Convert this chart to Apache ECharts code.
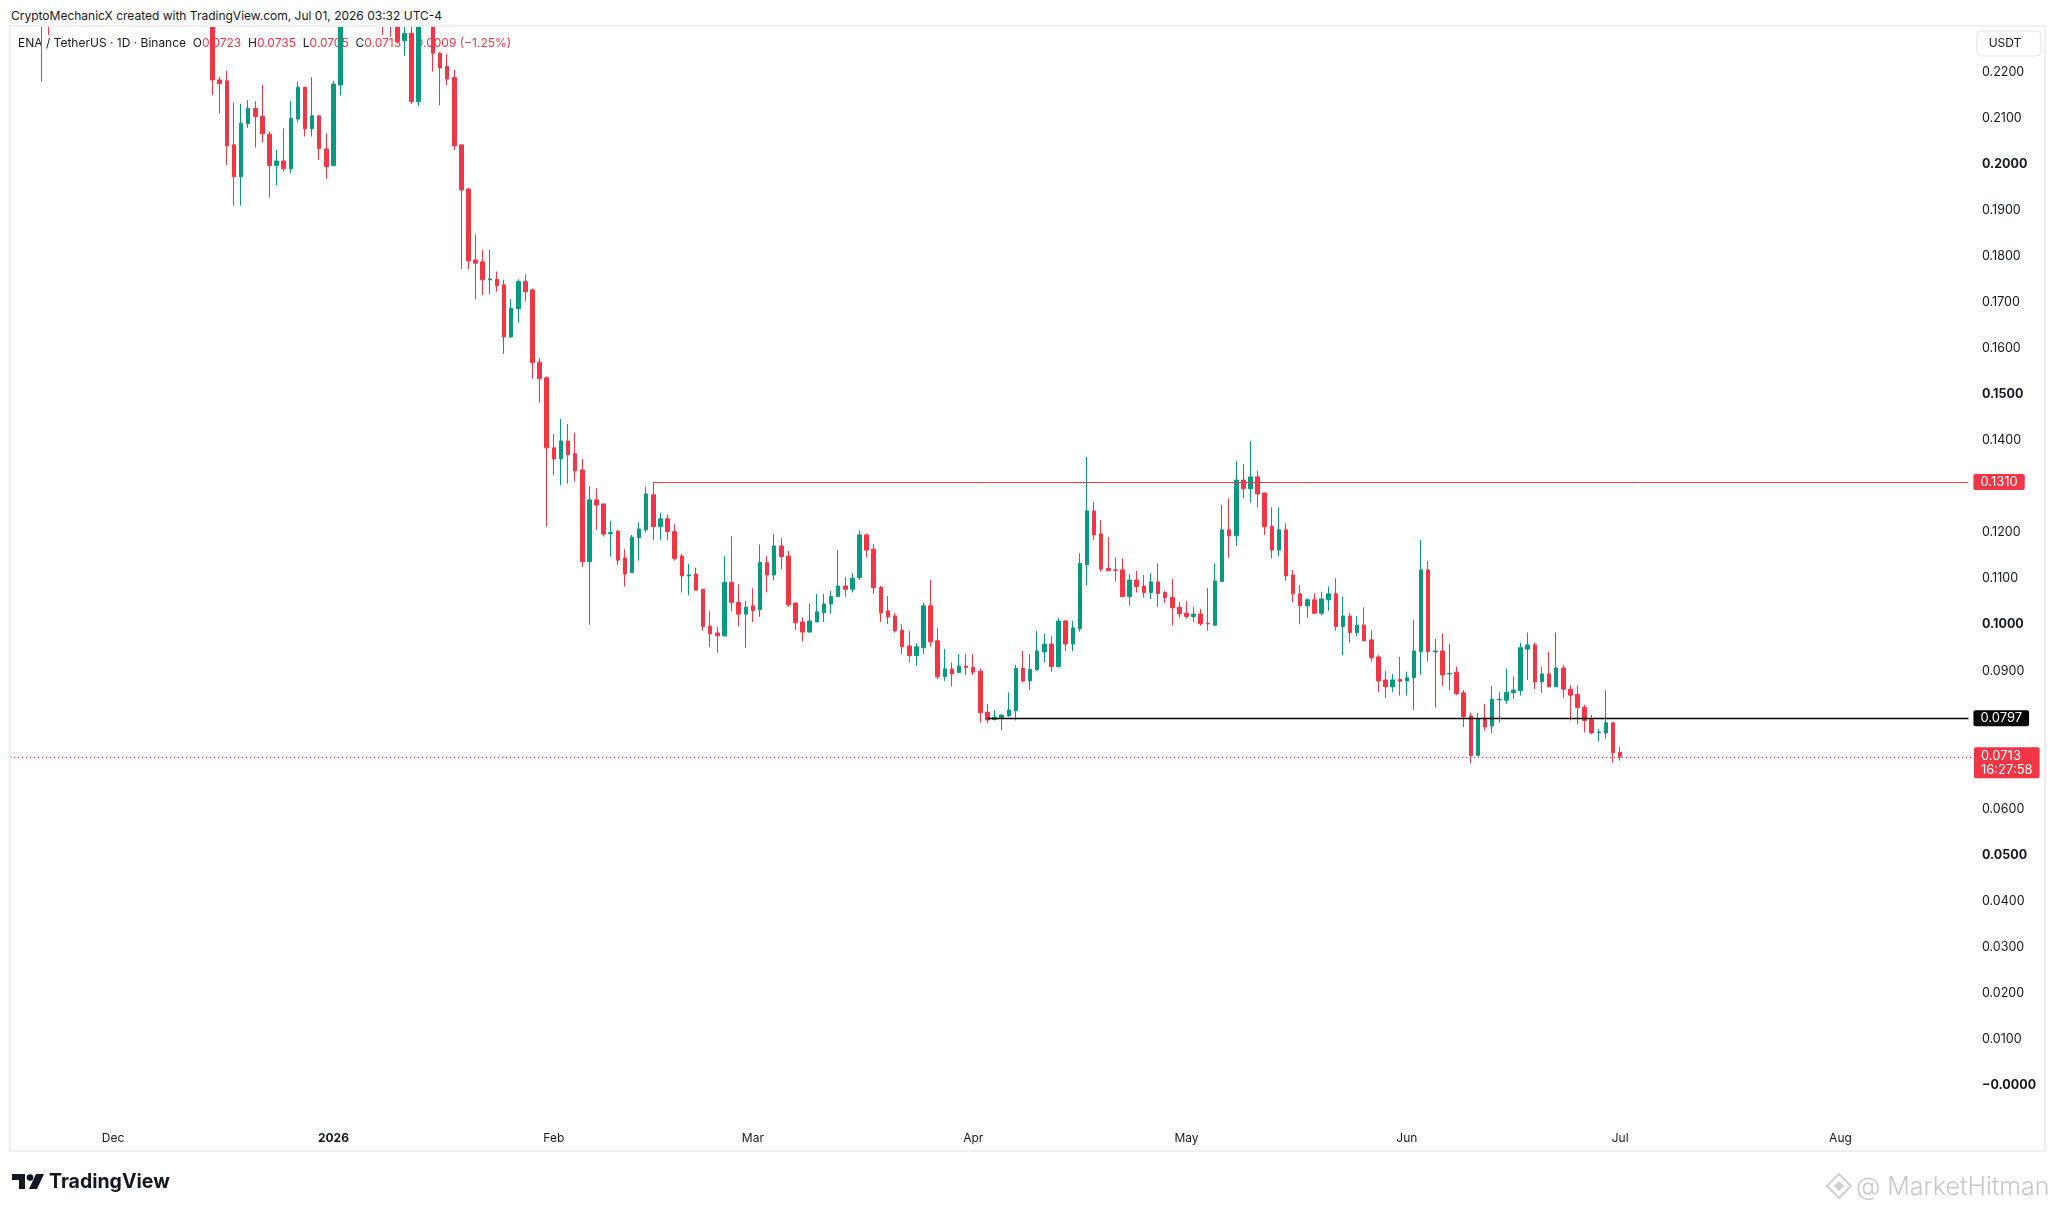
<!DOCTYPE html>
<html lang="en">
<head>
    <meta charset="utf-8">
    <title>ENA / TetherUS 1D</title>
    <style>
        html, body {
            margin: 0;
            padding: 0;
            background: #ffffff;
        }

        #wrap {
            position: relative;
            width: 2055px;
            height: 1212px;
        }

        #chart {
            width: 2055px;
            height: 1212px;
        }

        /* header strip sits over the canvas, so candles running off the pane top stay hidden */
        #header {
            position: absolute;
            left: 0;
            top: 0;
            width: 2055px;
            height: 25px;
            background: #ffffff;
            z-index: 10;
            font: 12px Inter, "Noto Sans", sans-serif;
            color: #131722;
            line-height: 32px;
            padding-left: 11px;
            box-sizing: border-box;
            white-space: nowrap;
        }

        #header span {
            display: block;
            height: 25px;
            line-height: 32px;
            overflow: visible;
        }
    </style>
</head>
<body>
<div id="wrap">
    <div id="chart"></div>
    <div id="header"><span>CryptoMechanicX created with TradingView.com, Jul 01, 2026 03:32 UTC-4</span></div>
</div>

<script src="https://cdn.jsdelivr.net/npm/echarts@6/dist/echarts.min.js"></script>
<script>
    // daily candles, 2025-11-17 .. 2026-07-01
    const firstDay = Date.UTC(2025, 10, 17);
    const dayCount = 276; // axis runs on to 2026-08-19

    const opens = [
        .262, .255, .266, .258, .246, .240, .235, .247, .256, .251,
        .263, .270, .262, .266, .259, .244, .258, .271, .263, .255,
        .258, .252, .257, .262, .255, .248, .245, .249, .244, .2183,
        .2181, .2042, .1973, .2088, .2121, .2104, .2065, .1997, .2007, .1990,
        .2098, .2167, .2077, .2105, .2033, .1997, .2172, .240, .248, .256,
        .249, .254, .245, .238, .236, .2268, .2284, .2136, .240, .243,
        .2241, .2212, .2188, .2042, .1946, .1792, .1788, .1749, .1750, .1738,
        .1625, .1686, .1745, .1727, .1570, .1536, .1384, .1360, .1399, .1371,
        .1336, .1137, .1271, .1262, .1198, .1203, .1145, .1113, .1189, .1206,
        .1282, .1213, .1230, .1202, .1149, .1106, .1110, .1077, .0997, .0982,
        .0976, .1092, .1048, .1023, .1041, .1033, .1135, .1108, .1171, .1149,
        .1047, .1006, .0984, .1006, .1026, .1045, .1061, .1084, .1077, .1102,
        .1195, .1164, .1081, .1030, .1019, .0988, .0954, .0933, .0950, .1041,
        .0965, .0887, .0904, .0896, .0910, .0907, .0899, .0810, .0794, .0798,
        .0802, .0813, .0905, .0878, .0902, .0941, .0958, .0909, .1008, .0958,
        .0991, .1130, .1247, .1197, .1122, .1119, .1119, .1061, .1097, .1084,
        .1070, .1093, .1070, .1059, .1038, .1025, .1018, .1023, .1003, .0999,
        .1094, .1206, .1193, .1314, .1295, .1321, .1286, .1214, .1162, .1206,
        .1108, .1067, .1041, .1054, .1025, .1054, .1067, .0996, .1019, .0983,
        .0999, .0967, .0930, .0880, .0865, .0881, .0878, .0885, .0942, .1119,
        .0941, .0943, .0893, .0897, .0852, .0802, .0716, .0797, .0780, .0837,
        .0836, .0852, .0857, .0947, .0956, .0876, .0893, .0865, .0906, .0860,
        .0849, .0821, .0794, .0766, .0765, .0787, .0723
    ];
    const closes = [
        .255, .266, .258, .246, .238, .235, .247, .256, .251, .263,
        .270, .262, .266, .259, .244, .258, .271, .263, .255, .258,
        .252, .257, .262, .255, .248, .245, .249, .244, .2183, .2175,
        .2040, .1973, .2089, .2121, .2103, .2066, .1997, .2007, .1990, .2100,
        .2167, .2077, .2105, .2034, .1995, .2174, .2400, .248, .256, .249,
        .254, .245, .238, .234, .2266, .2284, .2136, .2400, .243, .2241,
        .2209, .2185, .2040, .1944, .1790, .1785, .1749, .1751, .1736, .1625,
        .1687, .1745, .1723, .1569, .1534, .1384, .1360, .1399, .1369, .1334,
        .1137, .1271, .1260, .1197, .1200, .1140, .1110, .1190, .1208, .1284,
        .1213, .1230, .1202, .1144, .1106, .1108, .1075, .0996, .0980, .0976,
        .1092, .1048, .1023, .1038, .1031, .1135, .1108, .1171, .1148, .1043,
        .1004, .0984, .1008, .1028, .1045, .1061, .1084, .1077, .1101, .1195,
        .1162, .1080, .1026, .1017, .0987, .0952, .0933, .0952, .1041, .0963,
        .0887, .0904, .0893, .0910, .0907, .0897, .0809, .0793, .0799, .0804,
        .0815, .0905, .0878, .0903, .0943, .0958, .0909, .1008, .0958, .0993,
        .1133, .1247, .1195, .1121, .1117, .1118, .1061, .1097, .1083, .1070,
        .1093, .1068, .1059, .1037, .1024, .1018, .1023, .1002, .1002, .1095,
        .1206, .1193, .1314, .1295, .1321, .1284, .1213, .1162, .1206, .1106,
        .1067, .1041, .1054, .1025, .1056, .1067, .0996, .1019, .0983, .0999,
        .0965, .0928, .0878, .0865, .0880, .0877, .0885, .0943, .1119, .0942,
        .0943, .0891, .0894, .0850, .0800, .0716, .0796, .0778, .0838, .0838,
        .0853, .0858, .0950, .0956, .0876, .0893, .0865, .0906, .0860, .0847,
        .0820, .0792, .0765, .0767, .0787, .0722, .0713
    ];
    const lows = [
        .249, .250, .252, .240, .2179, .228, .233, .243, .246, .248,
        .258, .257, .259, .254, .238, .240, .255, .259, .250, .252,
        .247, .249, .251, .250, .243, .240, .242, .238, .2150, .2110,
        .1998, .1910, .1910, .2079, .2036, .2047, .1927, .1954, .1984, .1980,
        .2091, .2060, .2060, .2009, .1968, .1995, .2149, .236, .244, .243,
        .245, .238, .2281, .2277, .2262, .2235, .2131, .2127, .2355, .2201,
        .2128, .2172, .2031, .1772, .1772, .1707, .1716, .1718, .1723, .1588,
        .1623, .1656, .1702, .1534, .1482, .1213, .1325, .1303, .1306, .1311,
        .1126, .1000, .1206, .1191, .1148, .1130, .1083, .1113, .1139, .1200,
        .1184, .1184, .1183, .1139, .1070, .1064, .1075, .0987, .0952, .0939,
        .0974, .1029, .0996, .0950, .1006, .1017, .1070, .1096, .1121, .1039,
        .0988, .0964, .0983, .1006, .1006, .1024, .1061, .1061, .1070, .1097,
        .1146, .1067, .1006, .1001, .0983, .0936, .0918, .0911, .0936, .0952,
        .0882, .0878, .0866, .0896, .0891, .0891, .0787, .0786, .0792, .0771,
        .0800, .0792, .0875, .0858, .0900, .0918, .0898, .0907, .0943, .0943,
        .0985, .1085, .1184, .1115, .1117, .1094, .1061, .1041, .1070, .1059,
        .1056, .1039, .1047, .0998, .1015, .1014, .1006, .0998, .0987, .0998,
        .1094, .1145, .1171, .1274, .1265, .1255, .1195, .1144, .1149, .1095,
        .1049, .1001, .1015, .1023, .1020, .1030, .0987, .0934, .0961, .0975,
        .0965, .0920, .0854, .0841, .0854, .0846, .0846, .0815, .0891, .0920,
        .0820, .0867, .0858, .0847, .0778, .0699, .0716, .0770, .0765, .0787,
        .0828, .0839, .0846, .0880, .0860, .0852, .0865, .0865, .0841, .0792,
        .0784, .0766, .0762, .0746, .0753, .0700, .0705
    ];
    const highs = [
        .268, .272, .270, .262, .249, .246, .251, .262, .260, .268,
        .276, .274, .271, .269, .261, .262, .279, .275, .266, .261,
        .262, .264, .268, .267, .258, .252, .253, .252, .246, .2190,
        .2203, .2134, .2131, .2139, .2137, .2172, .2071, .2031, .2078, .2137,
        .2179, .2167, .2189, .2107, .2067, .2181, .2440, .253, .262, .260,
        .258, .257, .247, .241, .238, .2320, .2310, .2450, .250, .2460,
        .2244, .2239, .2205, .2042, .1948, .1848, .1814, .1814, .1767, .1749,
        .1707, .1750, .1761, .1730, .1579, .1539, .1414, .1447, .1436, .1417,
        .1360, .1301, .1296, .1264, .1225, .1206, .1164, .1195, .1222, .1300,
        .1310, .1243, .1239, .1218, .1154, .1132, .1124, .1077, .1029, .0996,
        .1149, .1192, .1088, .1052, .1079, .1174, .1149, .1197, .1188, .1160,
        .1047, .1016, .1046, .1067, .1067, .1073, .1162, .1103, .1112, .1204,
        .1198, .1175, .1084, .1062, .1025, .1001, .0986, .0960, .1048, .1097,
        .0993, .0947, .0918, .0936, .0937, .0936, .0905, .0828, .0815, .0804,
        .0853, .0913, .0943, .0936, .0986, .0981, .0975, .1015, .1010, .1008,
        .1155, .1364, .1266, .1227, .1190, .1146, .1144, .1110, .1117, .1108,
        .1112, .1133, .1073, .1099, .1049, .1051, .1039, .1034, .1080, .1133,
        .1260, .1274, .1355, .1349, .1399, .1334, .1286, .1255, .1255, .1220,
        .1119, .1086, .1057, .1068, .1072, .1083, .1101, .1061, .1025, .1019,
        .1038, .0988, .0934, .0900, .0893, .0930, .0898, .1010, .1184, .1138,
        .0969, .0981, .0958, .0909, .0858, .0808, .0808, .0828, .0867, .0853,
        .0904, .0887, .0961, .0983, .0961, .0909, .0941, .0983, .0912, .0868,
        .0868, .0826, .0804, .0773, .0858, .0787, .0735
    ];

    // price axis ticks and the time axis month labels
    const yTicks = [0, 0.01, 0.02, 0.03, 0.04, 0.05, 0.06, 0.07, 0.08, 0.09, 0.10,
        0.11, 0.12, 0.13, 0.14, 0.15, 0.16, 0.17, 0.18, 0.19, 0.20, 0.21, 0.22];
    const monthDays = ['2025-12-01', '2026-01-01', '2026-02-01', '2026-03-01', '2026-04-01',
        '2026-05-01', '2026-06-01', '2026-07-01', '2026-08-01'];
    const monthTexts = ['Dec', '2026', 'Feb', 'Mar', 'Apr', 'May', 'Jun', 'Jul', 'Aug'];

    // drawn levels
    const resistance = {from: '2026-02-15', value: 0.1310};
    const support = {from: '2026-04-03', value: 0.0797};
    const lastPrice = 0.0713;
    const countdown = '16:27:58';

    const UP = '#089981';
    const DOWN = '#f23645';
    const INK = '#131722';
    const FONT = 'Inter, "Noto Sans", sans-serif';

    function fmt(t) {
        let d = new Date(t);
        let m = String(d.getUTCMonth() + 1).padStart(2, '0');
        let day = String(d.getUTCDate()).padStart(2, '0');
        return d.getUTCFullYear() + '-' + m + '-' + day;
    }

    let dates = [];
    for (let i = 0; i < dayCount; i++) {
        dates.push(fmt(firstDay + i * 86400000));
    }
    let lastDate = dates[dates.length - 1];

    let candles = [];
    for (let i = 0; i < opens.length; i++) {
        candles.push([opens[i], closes[i], lows[i], highs[i]]);
    }

    function tagLabel(bg, text) {
        return {
            show: true,
            position: 'end',
            distance: 5,
            formatter: text,
            color: '#ffffff',
            backgroundColor: bg,
            padding: [2, 7, 1, 7],
            fontSize: 13,
            fontFamily: FONT,
            borderRadius: 2
        };
    }

    let chart = echarts.init(document.getElementById('chart'));

    let option = {
        animation: false,
        backgroundColor: '#ffffff',
        grid: {
            left: 10,
            right: 83,
            top: 26.5,
            bottom: 87.5
        },
        xAxis: {
            type: 'category',
            data: dates,
            boundaryGap: true,
            axisLine: {show: false},
            axisTick: {show: false},
            splitLine: {show: false},
            axisLabel: {
                margin: 8,
                color: INK,
                fontSize: 12,
                fontFamily: FONT,
                interval: function (index, value) {
                    return monthDays.indexOf(value) >= 0;
                },
                formatter: function (value) {
                    let k = monthDays.indexOf(value);
                    if (k < 0) return '';
                    if (monthTexts[k] === '2026') return '{b|' + monthTexts[k] + '}';
                    return monthTexts[k];
                },
                rich: {
                    b: {fontWeight: 'bold', fontSize: 12, fontFamily: FONT, color: INK}
                }
            }
        },
        yAxis: {
            type: 'value',
            position: 'right',
            min: -0.00853,
            max: 0.2299,
            splitLine: {show: false},
            axisLine: {show: false},
            axisTick: {show: false},
            axisLabel: {
                customValues: yTicks,
                align: 'left',
                margin: 10,
                color: INK,
                fontSize: 12.5,
                fontFamily: FONT,
                formatter: function (v) {
                    let s = Math.abs(v) < 1e-9 ? '\u22120.0000' : v.toFixed(4);
                    let bold = Math.abs(Math.round(v * 100) % 5) === 0;
                    return bold ? '{b|' + s + '}' : s;
                },
                rich: {
                    b: {fontWeight: 'bold', fontSize: 12.5, fontFamily: FONT, color: INK}
                }
            }
        },
        series: [
            {
                type: 'candlestick',
                data: candles,
                barWidth: 4,
                clip: true,
                z: 3,
                itemStyle: {
                    color: UP,
                    color0: DOWN,
                    borderColor: UP,
                    borderColor0: DOWN,
                    borderWidth: 1
                },
                emphasis: {disabled: true},
                markLine: {
                    silent: true,
                    precision: 4,
                    symbol: ['none', 'none'],
                    animation: false,
                    data: [
                        [
                            {coord: [resistance.from, resistance.value], lineStyle: {color: DOWN, width: 1, type: 'solid'}, label: tagLabel(DOWN, resistance.value.toFixed(4))},
                            {coord: [lastDate, resistance.value]}
                        ],
                        [
                            {coord: [support.from, support.value], lineStyle: {color: '#000000', width: 1.3, type: 'solid'}, label: tagLabel('#000000', support.value.toFixed(4))},
                            {coord: [lastDate, support.value]}
                        ],
                        {
                            yAxis: lastPrice,
                            lineStyle: {color: DOWN, width: 1, type: [1, 3]},
                            label: Object.assign(tagLabel(DOWN, lastPrice.toFixed(4) + '\n' + countdown), {
                                distance: 2,
                                lineHeight: 14,
                                offset: [0, 6]
                            })
                        }
                    ]
                }
            }
        ],
        graphic: [
            {
                type: 'rect',
                silent: true,
                zlevel: 1,
                shape: {x: 10, y: 26, width: 2035, height: 1125},
                style: {fill: 'none', stroke: '#eef0f3', lineWidth: 2}
            },
            {
                type: 'text',
                silent: true,
                x: 18,
                y: 43,
                z: 1,
                style: {
                    text: '{k|ENA / TetherUS · 1D · Binance}  {k|O}{v|0.0723}  {k|H}{v|0.0735}  {k|L}{v|0.0705}  {k|C}{v|0.0713}  {v|\u22120.0009 (\u22121.25%)}',
                    font: '12px ' + FONT,
                    verticalAlign: 'middle',
                    rich: {
                        k: {fill: INK, font: '12px ' + FONT},
                        v: {fill: DOWN, font: '12px ' + FONT}
                    }
                }
            },
            {
                type: 'rect',
                silent: true,
                zlevel: 1,
                shape: {x: 1977, y: 31, width: 64, height: 25, r: 4},
                style: {fill: '#ffffff', stroke: '#e0e3eb', lineWidth: 1}
            },
            {
                type: 'text',
                silent: true,
                zlevel: 1,
                z: 2,
                x: 2005,
                y: 43.5,
                style: {
                    text: 'USDT',
                    font: '12px ' + FONT,
                    fill: INK,
                    align: 'center',
                    verticalAlign: 'middle'
                }
            },
            // TradingView logo
            {
                type: 'polygon',
                silent: true,
                shape: {points: [[12, 1174], [25, 1174], [25, 1189], [19, 1189], [19, 1180], [12, 1180]]},
                style: {fill: INK}
            },
            {
                type: 'circle',
                silent: true,
                shape: {cx: 30, cy: 1177.5, r: 3.3},
                style: {fill: INK}
            },
            {
                type: 'polygon',
                silent: true,
                shape: {points: [[36, 1174], [44, 1174], [37, 1189], [29, 1189]]},
                style: {fill: INK}
            },
            {
                type: 'text',
                silent: true,
                x: 49,
                y: 1182,
                style: {
                    text: 'TradingView',
                    font: 'bold 19.5px ' + FONT,
                    fill: INK,
                    verticalAlign: 'middle'
                }
            },
            // watermark
            {
                type: 'polygon',
                silent: true,
                shape: {points: [[1839, 1174], [1851, 1186], [1839, 1198], [1827, 1186]]},
                style: {fill: 'none', stroke: '#d0d0d0', lineWidth: 2}
            },
            {
                type: 'polygon',
                silent: true,
                shape: {points: [[1839, 1181], [1844, 1186], [1839, 1191], [1834, 1186]]},
                style: {fill: '#d0d0d0'}
            },
            {
                type: 'text',
                silent: true,
                x: 1856,
                y: 1187,
                style: {
                    text: '@ MarketHitman',
                    font: '300 25px ' + FONT,
                    fill: '#c8c8c8',
                    verticalAlign: 'middle'
                }
            }
        ]
    };

    chart.setOption(option);

    window.onresize = function () {
        chart.resize();
    };
</script>
</body>
</html>
